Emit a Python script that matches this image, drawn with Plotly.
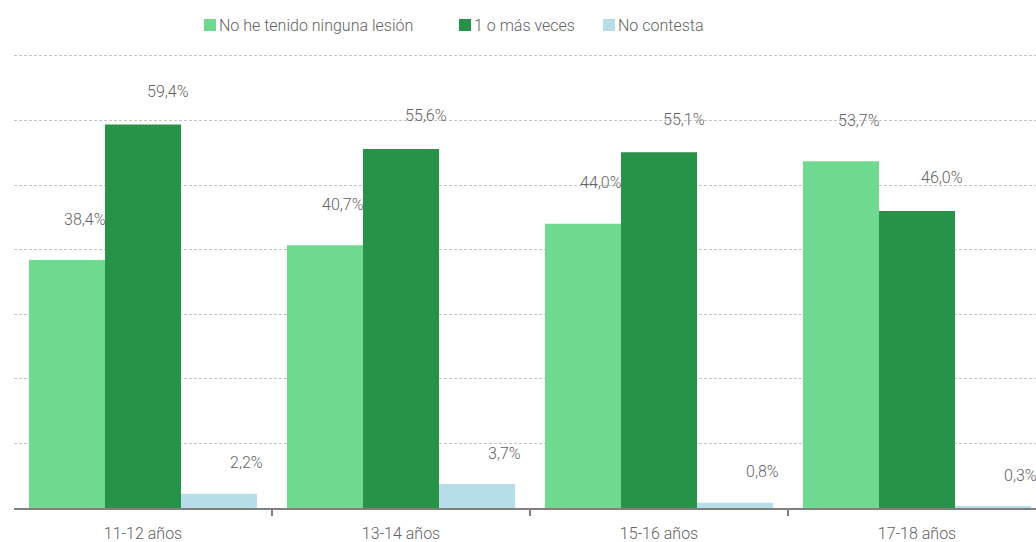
import plotly.graph_objects as go

categories = ["11-12 años", "13-14 años", "15-16 años", "17-18 años"]
series_names = ["No he tenido ninguna lesión", "1 o más veces", "No contesta"]
no_lesion = [38.4, 40.7, 44.0, 53.7]
una_o_mas = [59.4, 55.6, 55.1, 46.0]
no_contesta = [2.2, 3.7, 0.8, 0.3]
gridlines = [10, 20, 30, 40, 50, 60, 70]

colors = ["#6fda8f", "#269348", "#b6dde8"]
label_shift = [(18, 41), (25, 33), (27, 31)]  # (xshift, yshift) per series, px
text_color = "#626262"
FONT = "Roboto"
WEIGHT = 300

W, H = 1036, 542
y_top = 70.3
ml, mr, mb = 14, 0, 34
px_per_unit_y = 452 / 70.0
mt = round(56 - (y_top - 70) * px_per_unit_y)
bargap = 0.116
plot_w = W - ml - mr
unit_px = 258.0
x_max = -0.5 + plot_w / unit_px

xs = list(range(len(categories)))
fig = go.Figure()
all_series = [no_lesion, una_o_mas, no_contesta]
for name, vals, col in zip(series_names, all_series, colors):
    fig.add_trace(go.Bar(x=xs, y=vals, name=name, marker=dict(color=col, line=dict(width=0)),
                         showlegend=False, hoverinfo="skip"))

bw = (1 - bargap) / len(all_series)
annotations = []
for si, vals in enumerate(all_series):
    off = (si - (len(all_series) - 1) / 2) * bw
    dx, dy = label_shift[si]
    for i, v in enumerate(vals):
        annotations.append(dict(
            x=i + off, y=v, xref="x", yref="y", showarrow=False,
            text=f"{v:.1f}".replace(".", ",") + "%",
            xshift=dx, yshift=dy, yanchor="middle",
            font=dict(family=FONT, size=16, color=text_color, weight=WEIGHT)))

# manual legend
plot_h = H - mt - mb
leg_y_px = 25
leg_sq_x = [204, 459, 603]
shapes = []
for i, name in enumerate(series_names):
    x0 = leg_sq_x[i]
    shapes.append(dict(type="rect", xref="paper", yref="paper",
                       x0=(x0 - ml) / plot_w, x1=(x0 + 12 - ml) / plot_w,
                       y0=(H - mb - (leg_y_px + 6)) / plot_h, y1=(H - mb - (leg_y_px - 6)) / plot_h,
                       fillcolor=colors[i], line=dict(width=0)))
    annotations.append(dict(
        x=(x0 + 13 - ml) / plot_w, y=(H - mb - leg_y_px) / plot_h, xref="paper", yref="paper",
        xanchor="left", yanchor="middle", showarrow=False, text=name,
        font=dict(family=FONT, size=16, color=text_color, weight=WEIGHT)))

fig.update_layout(
    barmode="group", bargap=bargap, bargroupgap=0,
    width=W, height=H, margin=dict(l=ml, r=mr, t=mt, b=mb, pad=0),
    plot_bgcolor="white", paper_bgcolor="white",
    font=dict(family=FONT, size=16, color=text_color),
    annotations=annotations, shapes=shapes,
    xaxis=dict(range=[-0.5, x_max], tickmode="array", tickvals=xs, ticktext=categories,
               ticks="", showgrid=False, zeroline=False,
               showline=True, linecolor="#7f7f7f", linewidth=1.5,
               ticklabelstandoff=10,
               tickfont=dict(family=FONT, size=16, color=text_color, weight=WEIGHT),
               minor=dict(tickmode="array", tickvals=[i + 0.5 for i in xs[:-1]],
                          ticks="outside", ticklen=6, tickcolor="#7f7f7f", tickwidth=1.5,
                          showgrid=False)),
    yaxis=dict(range=[0, y_top], tickmode="array", tickvals=gridlines, showticklabels=False,
               showgrid=True, gridcolor="#c4c4c4", gridwidth=1, griddash="3px,2px",
               zeroline=False, showline=False),
)

fig.write_html("out.html", config={"displayModeBar": False},
               post_script="document.body.style.margin='0';document.body.style.overflow='hidden';")
